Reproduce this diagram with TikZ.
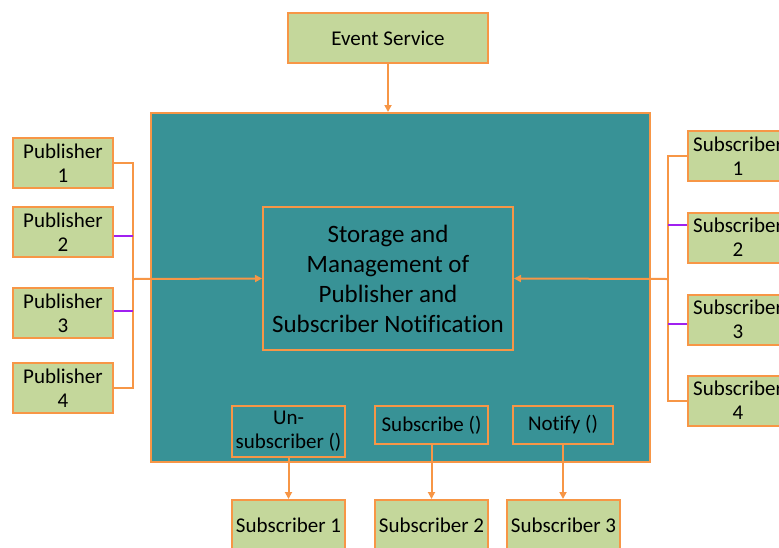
\documentclass[tikz,border=0pt]{standalone}
\usepackage{fontspec}
\setmainfont[Ligatures=CommonOff]{Carlito}
\usetikzlibrary{arrows.meta}
\definecolor{edge}{RGB}{247,150,70}
\definecolor{leaf}{RGB}{196,215,155}
\definecolor{core}{RGB}{56,146,150}
\definecolor{link}{RGB}{160,32,240}
\tikzset{
  box/.style={draw=edge, line width=2pt, fill=leaf, inner sep=0pt, align=center,
    font=\fontsize{21}{24}\selectfont, text=black},
  hollow/.style={draw=edge, line width=2pt, inner sep=0pt, align=center, text=black},
  wire/.style={draw=edge, line width=2pt},
  tie/.style={draw=link, line width=2pt},
  flow/.style={wire, -{Triangle[length=7pt,width=7pt]}},
}
\begin{document}
\begin{tikzpicture}[x=1pt,y=-1pt]
\useasboundingbox (0,0) rectangle (779,547);
\clip (0,0) rectangle (779,547);

% event source
\node[box, minimum width=200, minimum height=50] (ev) at (388,38) {Event Service};

% central store
\node[draw=edge, line width=2pt, fill=core, minimum width=499, minimum height=349, inner sep=0pt] (hub) at (400.5,287.5) {};
\node[hollow, minimum width=250, minimum height=143, font=\fontsize{25}{30}\selectfont] (store) at (388,278.5)
  {Storage and\\Management of\\Publisher and\\Subscriber Notification};

% operations
\node[hollow, minimum width=113, minimum height=51, font=\fontsize{21}{24}\selectfont] (unsub) at (288.5,431.5) {Un-\\subscriber ()};
\node[hollow, minimum width=113, minimum height=38, font=\fontsize{21}{24}\selectfont] (sub) at (431.5,425) {Subscribe ()};
\node[hollow, minimum width=100, minimum height=38, font=\fontsize{21}{24}\selectfont] (notify) at (563,425) {Notify ()};

% publishers
\node[box, minimum width=100, minimum height=50] (p1) at (63,163) {Publisher\\1};
\node[box, minimum width=100, minimum height=50] (p2) at (63,232) {Publisher\\2};
\node[box, minimum width=100, minimum height=50] (p3) at (63,313) {Publisher\\3};
\node[box, minimum width=100, minimum height=50] (p4) at (63,388) {Publisher\\4};

% subscribers on the right
\node[box, minimum width=100, minimum height=50] (s1) at (738,156) {Subscriber\\1};
\node[box, minimum width=100, minimum height=50] (s2) at (738,237.5) {Subscriber\\2};
\node[box, minimum width=100, minimum height=50] (s3) at (738,319.5) {Subscriber\\3};
\node[box, minimum width=100, minimum height=50] (s4) at (738,400.5) {Subscriber\\4};

% subscribers below
\node[box, minimum width=113, minimum height=50] (b1) at (288.5,525) {Subscriber 1};
\node[box, minimum width=113, minimum height=50] (b2) at (431.5,525) {Subscriber 2};
\node[box, minimum width=113, minimum height=50] (b3) at (563.5,525) {Subscriber 3};

% bus joints
\coordinate (lj) at (133,279);
\coordinate (rj) at (668,279);

% event service feed
\draw[flow] (ev.south) -- (ev.south |- hub.north);

% publisher bus
\draw[wire] (p1.east) -- (p1.east -| lj) -- (p4.east -| lj) -- (p4.east);
\draw[tie] ([yshift=-4pt]p2.east) -- ([yshift=-4pt]p2.east -| lj);
\draw[tie] ([yshift=2pt]p3.east) -- ([yshift=2pt]p3.east -| lj);
\draw[flow] (lj) -- (store.west);

% subscriber bus
\draw[wire] (s1.west) -- (s1.west -| rj) -- (s4.west -| rj) -- (s4.west);
\draw[tie] ([yshift=13pt]s2.west) -- ([yshift=13pt]s2.west -| rj);
\draw[tie] ([yshift=-4.5pt]s3.west) -- ([yshift=-4.5pt]s3.west -| rj);
\draw[flow] (rj) -- (store.east);

% operation outputs
\draw[flow] (unsub.south) -- (b1.north);
\draw[flow] (sub.south) -- (b2.north);
\draw[flow] (notify.south) -- (notify.south |- b3.north);
\end{tikzpicture}
\end{document}
